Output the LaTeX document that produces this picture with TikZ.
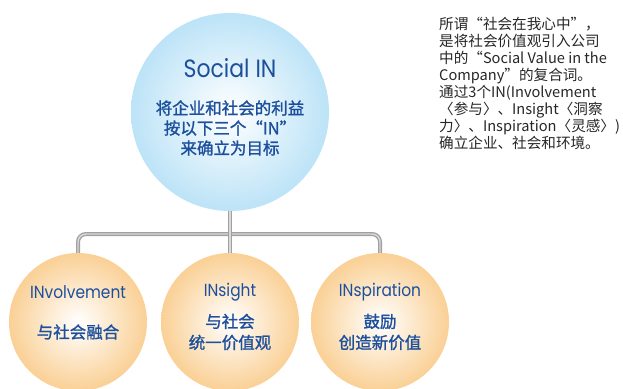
\documentclass[tikz,border=0pt]{standalone}
\usepackage{fontspec}
\setmainfont{Noto Sans CJK SC}
\newfontfamily\inTitleFont[FakeStretch=0.88]{Poppins}
\newfontfamily\ballFont[FakeBold=1.3]{Noto Sans CJK SC}
\definecolor{inBlue}{HTML}{1C4F9C}
\definecolor{skyEdge}{HTML}{BCE3F7}
\definecolor{peachEdge}{HTML}{FAD095}
\definecolor{connGray}{HTML}{A0A0A0}
\definecolor{connLight}{HTML}{DADADA}
\definecolor{noteText}{HTML}{262626}
\tikzset{
  bigBall/.style={circle, shade, inner sep=0pt, minimum size=198pt, inner color=white, outer color=skyEdge},
  smallBall/.style={circle, shade, inner sep=0pt, minimum size=138pt, inner color=white, outer color=peachEdge},
  bigTitle/.style={font=\inTitleFont\fontsize{25}{28}\selectfont, text=inBlue, inner sep=0pt},
  smallTitle/.style={font=\inTitleFont\fontsize{17.5}{20}\selectfont, text=inBlue, inner sep=0pt},
  bigLines/.style={font=\ballFont\fontsize{16.5}{20}\selectfont, text=inBlue, align=center, inner sep=0pt},
  smallLines/.style={font=\ballFont\fontsize{16.5}{21}\selectfont, text=inBlue, align=center, inner sep=0pt},
  noteLines/.style={font=\fontsize{14.6}{17}\selectfont, text=noteText, align=left, inner sep=0pt, anchor=north west},
  connLine/.style={draw=connGray, line width=1.3pt, double=connLight, double distance=1.4pt}
}
\begin{document}
\begin{tikzpicture}[x=1pt, y=-1pt]
    \useasboundingbox (0,0) rectangle (623,388);
    \clip (0,0) rectangle (623,388);

    % the circles
    \node (social) [bigBall] at (230,112) {};
    \node (involve) [smallBall] at (78,322) {};
    \node (insight) [smallBall] at (230,322) {};
    \node (inspire) [smallBall] at (380,322) {};
    \coordinate (hub) at (230,234);

    % connectors
    \draw [connLine, rounded corners=8pt] (involve.north) |- (hub) -| (inspire.north);
    \draw [connLine] (social.south) -- (insight.north);

    % texts
    \node (socialTitle) [bigTitle] at (230,68) {Social IN};
    \node (socialText) [bigLines] at (230,128) {将企业和社会的利益\\按以下三个“IN”\\来确立为目标};
    \node (involveTitle) [smallTitle] at (78,292) {INvolvement};
    \node (involveText) [smallLines] at (78,332) {与社会融合};
    \node (insightTitle) [smallTitle] at (230,292) {INsight};
    \node (insightText) [smallLines] at (230,332) {与社会\\统一价值观};
    \node (inspireTitle) [smallTitle] at (380,292) {INspiration};
    \node (inspireText) [smallLines] at (380,332) {鼓励\\创造新价值};
    \node (note) [noteLines] at (439,17) {所谓“社会在我心中”，\\是将社会价值观引入公司\\中的“Social Value in the\\Company”的复合词。\\通过3个IN(Involvement\\〈参与〉、Insight〈洞察\\力〉、Inspiration〈灵感〉)\\确立企业、社会和环境。};
\end{tikzpicture}
\end{document}
